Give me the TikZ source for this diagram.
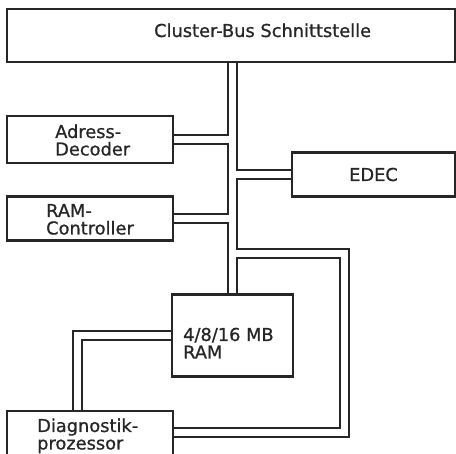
\documentclass[tikz,border=0pt]{standalone}
\usepackage{fontspec}
\setmainfont{DejaVu Sans}[FakeBold=0.8]
\usetikzlibrary{backgrounds}
\newcommand\twolines[2]{\vtop{\hbox{#1}\hbox{#2}}}

\begin{document}
\begin{tikzpicture}[x=1pt,y=-1pt,font=\fontsize{17.8}{17.5}\selectfont,
  unit/.style={draw=black!85,line width=2.8pt,fill=white,inner sep=0pt},
  txt/.style={anchor=base west,inner sep=0pt,text=black!85}]
  \useasboundingbox (0,0) rectangle (456,454);
  % boxes
  \node[unit,minimum width=448pt,minimum height=53pt] (bus) at (231,35.5) {};
  \node[unit,minimum width=166pt,minimum height=47pt] (adr) at (90,139.5) {};
  \node[unit,minimum width=163pt,minimum height=44pt] (edec) at (373.5,174.5) {};
  \node[unit,minimum width=166pt,minimum height=44pt] (ctrl) at (90,218.5) {};
  \node[unit,minimum width=121pt,minimum height=82pt] (ram) at (232.5,335.5) {};
  \node[unit,minimum width=166pt,minimum height=48pt] (diag) at (90,435) {};
  % texts
  \node[txt] (bustxt) at (154,37) {Cluster-Bus Schnittstelle};
  \node[txt] (adrtxt) at (55,138) {\twolines{Adress-}{Decoder}};
  \node[txt] (edectxt) at (349,181) {EDEC};
  \node[txt] (ctrltxt) at (46,217) {\twolines{RAM-}{Controller}};
  \node[txt] (ramtxt) at (183,341) {\twolines{4/8/16 MB}{RAM}};
  \node[txt] (diagtxt) at (37,432) {\twolines{Diagnostik-}{prozessor}};
  % double-line bus
  \coordinate (trk) at (232.5,0);
  \coordinate (lpt) at (344.5,253.5);
  \coordinate (lpb) at (344.5,432.5);
  \coordinate (rd) at (77.5,335.5);
  \begin{scope}[on background layer]
    \foreach \w/\c in {11/black!85,7/white}{
      \draw[line width=\w pt,\c] (bus.south -| trk) -- (ram.north -| trk);
      \draw[line width=\w pt,\c] (adr.east) -- (adr.east -| trk);
      \draw[line width=\w pt,\c] (edec.west) -- (edec.west -| trk);
      \draw[line width=\w pt,\c] (ctrl.east) -- (ctrl.east -| trk);
      \draw[line width=\w pt,\c] (lpt -| trk) -- (lpt) -- (lpb) -- (lpb -| diag.east);
      \draw[line width=\w pt,\c] (ram.west) -- (rd) -- (rd |- diag.north);
    }
  \end{scope}
\end{tikzpicture}
\end{document}
